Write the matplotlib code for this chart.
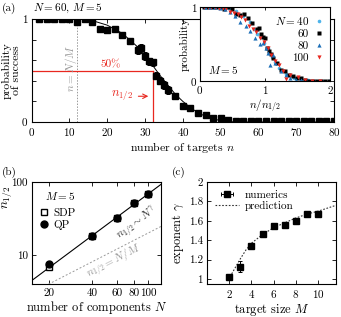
import matplotlib
matplotlib.use("Agg")
import matplotlib.pyplot as plt
import numpy as np

plt.rcParams['font.family'] = ['cmr10', 'DejaVu Serif']
plt.rcParams['mathtext.fontset'] = 'cm'
plt.rcParams['axes.unicode_minus'] = False
plt.rcParams['axes.formatter.use_mathtext'] = True
plt.rcParams['font.size'] = 8
plt.rcParams['axes.linewidth'] = 0.8

RED = '#e8271f'
GRAY = '#999999'

# ---- panel (a): success probability vs number of targets (N=60, M=5)
n_a = [2, 4, 6, 8, 10, 12, 14, 16, 18, 20, 22, 24, 26, 28, 29, 30, 31, 32,
       33, 34, 35, 36, 38, 40, 42, 44, 46, 48, 50, 52, 54, 56, 58, 60, 62,
       64, 66, 68, 70, 72, 74, 76, 78, 80]
p_a = [1.0, 1.0, 1.0, 1.0, 1.0, 0.975, 1.0, 0.975, 0.9, 0.89, 0.9, 0.845,
       0.79, 0.70, 0.72, 0.64, 0.59, 0.58, 0.45, 0.40, 0.36, 0.31, 0.25,
       0.155, 0.135, 0.085, 0.07, 0.035, 0.04, 0.015, 0.005, 0.005, 0.005,
       0.005, 0.005, 0.005, 0.005, 0.005, 0.005, 0.005, 0.005, 0.005, 0.005,
       0.005]
e_a = [0.005, 0.005, 0.005, 0.005, 0.005, 0.01, 0.005, 0.01, 0.025, 0.025,
       0.025, 0.03, 0.03, 0.035, 0.035, 0.035, 0.035, 0.035, 0.035, 0.035,
       0.035, 0.035, 0.03, 0.025, 0.02, 0.02, 0.02, 0.015, 0.015, 0.01,
       0.005, 0.005, 0.005, 0.005, 0.005, 0.005, 0.005, 0.005, 0.005, 0.005,
       0.005, 0.005, 0.005, 0.005]
fit_n = [12, 16, 20, 24, 28, 30, 32, 34, 36, 38, 40, 42, 44, 46, 48, 50, 52, 54, 80]
fit_p = [1.0, 0.985, 0.94, 0.86, 0.73, 0.65, 0.55, 0.45, 0.36, 0.27, 0.2, 0.14,
         0.09, 0.055, 0.03, 0.014, 0.005, 0.0, 0.0]
n_half = 32.2
n_over_m = 12

# inset: collapse p vs n/n_1/2 for several N
x40 = [0.11, 0.22, 0.33, 0.44, 0.55, 0.66, 0.77, 0.83, 0.88, 0.94, 0.99, 1.05,
       1.1, 1.16, 1.22, 1.33, 1.44, 1.55, 1.66, 1.77, 1.88, 1.99]
p40 = [1.0, 1.0, 1.0, 0.99, 0.95, 0.88, 0.8, 0.7, 0.64, 0.6, 0.52, 0.45,
       0.32, 0.26, 0.17, 0.09, 0.04, 0.02, 0.01, 0.0, 0.0, 0.0]
x60 = [n / n_half for n in n_a]
p60 = p_a
x80 = [0.08, 0.15, 0.23, 0.31, 0.39, 0.46, 0.54, 0.62, 0.70, 0.77, 0.85,
       0.93, 0.97, 1.01, 1.04, 1.08, 1.12, 1.16, 1.24, 1.32, 1.39, 1.47,
       1.55, 1.70, 1.86]
p80 = [1.0, 1.0, 1.0, 0.99, 0.97, 0.93, 0.88, 0.80, 0.74, 0.68, 0.58, 0.50,
       0.52, 0.45, 0.38, 0.22, 0.35, 0.24, 0.13, 0.08, 0.04, 0.02, 0.01, 0.0,
       0.0]
x100 = [0.06, 0.12, 0.17, 0.23, 0.29, 0.35, 0.40, 0.46, 0.52, 0.58, 0.63,
        0.69, 0.75, 0.81, 0.86, 0.92, 0.98, 1.04, 1.09, 1.15, 1.21, 1.27,
        1.32, 1.38, 1.5, 1.61, 1.73, 1.84]
p100 = [1.0, 1.0, 1.0, 1.0, 0.99, 0.98, 0.99, 0.93, 0.92, 0.90, 0.87, 0.82,
        0.75, 0.70, 0.66, 0.58, 0.53, 0.45, 0.35, 0.27, 0.22, 0.13, 0.03,
        0.08, 0.05, 0.01, 0.0, 0.0]

# ---- panel (b): n_1/2 vs N
N_b = [20, 40, 60, 80, 100]
sdp_b = [6.9, 18.1, 32.2, 51.7, 69.5]
qp_b = [7.6, 18.1, 32.2, 51.7, 69.5]
line_N = [15, 125]
line_n = [4.4, 95.0]
M_b = 5

# ---- panel (c): exponent gamma vs M
M_c = [2, 3, 4, 5, 6, 7, 8, 9, 10]
g_c = [1.02, 1.13, 1.34, 1.46, 1.55, 1.56, 1.60, 1.675, 1.67]
ge_c = [0.02, 0.06, 0.03, 0.015, 0.015, 0.015, 0.015, 0.02, 0.015]
pred_M = [2.0, 2.25, 2.5, 3, 3.5, 4, 5, 6, 7, 8, 9, 10, 11.6]
pred_g = [0.99, 1.06, 1.11, 1.21, 1.30, 1.37, 1.46, 1.53, 1.58, 1.63, 1.67,
          1.70, 1.76]

W, H = 341, 317
fig = plt.figure(figsize=(W / 100, H / 100), dpi=100)


def box(l, t, r, b):
    return [l / W, 1 - b / H, (r - l) / W, (b - t) / H]


def ticks_in(ax, size=3, fs=8):
    ax.tick_params(direction='in', top=True, right=True, length=size,
                   width=0.6, pad=3, labelsize=fs)


# (a) main
ax = fig.add_axes(box(31.7, 19, 334, 122))
ax.errorbar(n_a, p_a, yerr=e_a, fmt='s', color='black', ms=3.8, lw=0.7,
            capsize=1.5, capthick=0.7, zorder=4)
ax.plot(fit_n, fit_p, color='black', lw=0.7, zorder=3)
ax.axvline(n_over_m, color=GRAY, ls=(0, (1.5, 1.5)), lw=0.7)
ax.plot([0, n_half], [0.5, 0.5], color=RED, lw=0.9)
ax.plot([n_half, n_half], [0, 0.5], color=RED, lw=0.9)
ax.text(21, 0.555, '50%', color=RED, ha='center', va='center', fontsize=8)
ax.text(24, 0.25, r'$n_{1/2}$', color=RED, ha='center', va='center', fontsize=9)
ax.annotate('', xy=(31.6, 0.25), xytext=(27.5, 0.25),
            arrowprops=dict(arrowstyle='->', color=RED, lw=0.8))
ax.text(10.3, 0.52, r'$n=N/M$', color=GRAY, rotation=90, ha='center',
        va='center', fontsize=8)
ax.set_xlim(0, 80)
ax.set_ylim(0, 1)
ax.set_xticks(range(0, 81, 10))
ax.set_yticks([0, 0.2, 0.4, 0.6, 0.8, 1.0])
ax.set_yticklabels(['0', '', '', '', '', '1'])
ticks_in(ax)
ax.set_xlabel(r'number of targets $n$', fontsize=8.5, labelpad=1)
ax.set_ylabel('probability\nof success', fontsize=8.5, linespacing=0.9,
              labelpad=1)
fig.text(2 / W, 1 - 8 / H, '(a)', fontsize=8, va='center')
fig.text(33 / W, 1 - 8 / H, r'$N=60$, $M=5$', fontsize=8, va='center')

# inset
ins = fig.add_axes(box(200, 7, 330, 81))
ins.plot(x40, p40, 'o', color='#4db3ea', ms=2.6, mec='none', label=r'$N=40$')
ins.plot(x60, p60, 's', color='black', ms=2.4, mec='none', label='60')
ins.plot(x80, p80, '^', color='#1d6fb8', ms=3.0, mec='none', label='80')
ins.plot(x100, p100, 'v', color='#e8271f', ms=3.0, mec='none', label='100')
ins.set_xlim(0, 2)
ins.set_ylim(0, 1)
ins.set_xticks([0, 1, 2])
ins.set_yticks([0, 1])
ins.tick_params(direction='in', top=True, right=True, length=2.5, width=0.6,
                labelsize=8, pad=2)
ins.set_xlabel(r'$n/n_{1/2}$', fontsize=8, labelpad=1)
ins.set_ylabel('probability', fontsize=8, labelpad=0)
ins.text(0.06, 0.1, r'$M=5$', transform=ins.transAxes, fontsize=8)
ins.legend(loc='upper right', markerfirst=False, frameon=False, fontsize=8,
           handlelength=0.6, handletextpad=0.6, labelspacing=0.2,
           borderaxespad=0.3, alignment='right')

# (b)
bx = fig.add_axes(box(32, 182, 161, 284))
bx.set_xscale('log')
bx.set_yscale('log')
bx.plot(line_N, line_n, color='black', lw=0.8)
bx.plot(line_N, [v / M_b for v in line_N], color=GRAY, ls=(0, (2, 2)), lw=0.7)
bx.plot(N_b, sdp_b, 's', mfc='white', mec='black', mew=1.0, ms=5, label='SDP')
bx.plot(N_b, qp_b, 'o', color='black', ms=5, label='QP')
bx.set_xlim(15.2, 123)
bx.set_ylim(4, 100)
bx.set_xticks(N_b)
bx.set_xticklabels([str(v) for v in N_b])
bx.set_yticks([10, 100])
bx.set_yticklabels(['10', '100'])
bx.minorticks_off()
ticks_in(bx)
bx.text(84, 27, r'$n_{1/2}\sim N^{\gamma}$', rotation=36, ha='center',
        va='center', fontsize=8, color='#333333')
bx.text(57.5, 8.3, r'$n_{1/2}=N/M$', rotation=27, ha='center', va='center',
        fontsize=8, color=GRAY)
bx.text(0.1, 0.82, r'$M=5$', transform=bx.transAxes, fontsize=8)
bx.legend(loc='upper left', bbox_to_anchor=(0.0, 0.82), frameon=False,
          fontsize=8, handlelength=0.8, handletextpad=0.4, labelspacing=0.2,
          borderaxespad=0.3)
bx.set_xlabel(r'number of components $N$', fontsize=9, labelpad=1)
fig.text(8 / W, 1 - 197 / H, r'$n_{1/2}$', fontsize=9.5, rotation=90,
         ha='center', va='center')
fig.text(2 / W, 1 - 172 / H, '(b)', fontsize=8, va='center')

# (c)
cx = fig.add_axes(box(207, 182, 336, 284))
cx.errorbar(M_c, g_c, yerr=ge_c, fmt='s', color='black', ms=4.2, lw=0.7,
            capsize=1.5, capthick=0.7)
h_num = cx.errorbar([np.nan], [np.nan], xerr=[[1]], fmt='s', color='black',
                    ms=4.2, lw=0.7, capsize=1.5, capthick=0.7)
h_pred, = cx.plot(pred_M, pred_g, color='#333333', ls=(0, (1.5, 1.5)), lw=0.8)
cx.set_xlim(0, 11.6)
cx.set_ylim(0.95, 2)
cx.set_xticks([2, 4, 6, 8, 10])
cx.set_yticks([1, 1.2, 1.4, 1.6, 1.8, 2])
cx.set_yticklabels(['1', '1.2', '1.4', '1.6', '1.8', '2'])
ticks_in(cx)
cx.legend([h_num, h_pred], ['numerics', 'prediction'], loc='upper left',
          frameon=False, fontsize=8, handlelength=2.2, handletextpad=0.5,
          labelspacing=0.1, borderaxespad=0.3)
cx.set_xlabel(r'target size $M$', fontsize=9, labelpad=1)
cx.set_ylabel(r'exponent $\gamma$', fontsize=9, labelpad=2)
fig.text(172 / W, 1 - 172 / H, '(c)', fontsize=8, va='center')

fig.savefig('out.png', dpi=100)
